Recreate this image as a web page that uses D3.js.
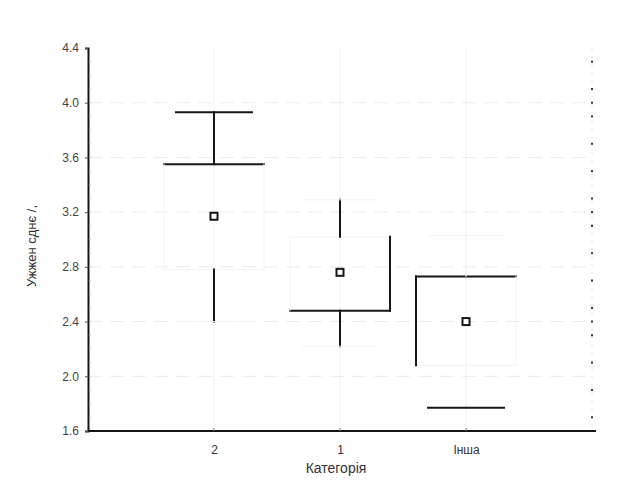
<!DOCTYPE html>
<html>
<head>
<meta charset="utf-8">
<script src="https://cdn.jsdelivr.net/npm/d3@7"></script>
<style>
  body { margin: 0; background: #fff; }
  text { font-family: "Liberation Sans", Arial, sans-serif; }
</style>
</head>
<body>
<svg id="chart" width="630" height="489"></svg>
<script>
var categories = ["2", "1", "Інша"];
var means     = [3.17, 2.76, 2.40];
var boxLow    = [2.78, 2.48, 2.08];
var boxHigh   = [3.55, 3.02, 2.73];
var whiskLow  = [2.40, 2.22, 1.77];
var whiskHigh = [3.93, 3.29, 3.03];
var yTicks = [1.6, 2.0, 2.4, 2.8, 3.2, 3.6, 4.0, 4.4];

// which parts are printed dark in the source (the rest is almost white)
var dark = [
    {capHi: true,  whiskHi: true,  top: true,  right: false, bottom: false, left: false, whiskLo: true,  capLo: false},
    {capHi: false, whiskHi: true,  top: false, right: true,  bottom: true,  left: false, whiskLo: true,  capLo: false},
    {capHi: false, whiskHi: false, top: true,  right: false, bottom: false, left: true,  whiskLo: false, capLo: true}
];

var svg = d3.select("#chart");
var pLeft = 88, pRight = 592, pTop = 48, pBottom = 431;

var x = d3.scalePoint().domain(categories).range([pLeft, pRight]).padding(1);
var y = d3.scaleLinear().domain([1.6, 4.4]).range([pBottom, pTop]);

var faint = "#f3f3f3", ink = "#161616";

// grid
svg.append("g").selectAll("line")
    .data(yTicks.slice(1, -1))
    .enter().append("line")
    .attr("x1", pLeft).attr("x2", pRight)
    .attr("y1", d => y(d)).attr("y2", d => y(d))
    .attr("stroke", "#ebebeb").attr("stroke-dasharray", "14,8");
svg.append("g").selectAll("line")
    .data(categories)
    .enter().append("line")
    .attr("x1", d => x(d)).attr("x2", d => x(d))
    .attr("y1", pTop).attr("y2", pBottom)
    .attr("stroke", "#f2f2f2");

// right frame, dotted
svg.append("line")
    .attr("x1", pRight).attr("x2", pRight).attr("y1", pTop).attr("y2", pBottom)
    .attr("stroke", "#e0e0e0").attr("stroke-dasharray", "2,6");
svg.append("g").selectAll("rect")
    .data(d3.range(1.7, 4.4, 0.2).concat([2.4, 3.2, 4.0]))
    .enter().append("rect")
    .attr("x", pRight - 1).attr("y", d => y(d) - 1)
    .attr("width", 2).attr("height", 2).attr("fill", "#333");

// boxes
var boxHalf = 50, capHalf = 38;
var g = svg.append("g");
categories.forEach(function(c, i) {
    var cx = x(c), f = dark[i];
    var seg = function(x1, y1, x2, y2, on) {
        g.append("line")
            .attr("x1", x1).attr("y1", y1).attr("x2", x2).attr("y2", y2)
            .attr("stroke", on ? ink : faint)
            .attr("stroke-width", on ? 2 : 1)
            .attr("stroke-linecap", "square");
    };
    var bl = cx - boxHalf, br = cx + boxHalf;
    var yt = y(boxHigh[i]), yb = y(boxLow[i]);
    seg(bl, yt, br, yt, f.top);
    seg(br, yt, br, yb, f.right);
    seg(bl, yb, br, yb, f.bottom);
    seg(bl, yt, bl, yb, f.left);
    seg(cx, y(whiskHigh[i]), cx, yt, f.whiskHi);
    seg(cx, yb, cx, y(whiskLow[i]), f.whiskLo);
    seg(cx - capHalf, y(whiskHigh[i]), cx + capHalf, y(whiskHigh[i]), f.capHi);
    seg(cx - capHalf, y(whiskLow[i]), cx + capHalf, y(whiskLow[i]), f.capLo);
    g.append("rect")
        .attr("x", cx - 3.5).attr("y", y(means[i]) - 3.5)
        .attr("width", 7).attr("height", 7)
        .attr("fill", "#fff").attr("stroke", ink).attr("stroke-width", 2);
});

// y axis
var yAxis = svg.append("g").attr("transform", "translate(" + pLeft + ",0)")
    .call(d3.axisLeft(y).tickValues(yTicks).tickSize(3).tickFormat(d3.format(".1f")));
yAxis.select(".domain").attr("stroke", ink).attr("stroke-width", 2);
yAxis.selectAll(".tick line").attr("stroke", "#555");
yAxis.selectAll("text").attr("font-size", 12).attr("fill", "#444").attr("x", -9);
svg.append("g").selectAll("line")
    .data(d3.range(1.7, 4.4, 0.1))
    .enter().append("line")
    .attr("x1", pLeft + 1).attr("x2", pLeft + 3)
    .attr("y1", d => y(d)).attr("y2", d => y(d))
    .attr("stroke", "#bbb");

// x axis
var xAxis = svg.append("g").attr("transform", "translate(0," + pBottom + ")")
    .call(d3.axisBottom(x).tickSize(0).tickPadding(14));
xAxis.select(".domain").attr("d", "M" + pLeft + ",0H" + (pRight + 4))
    .attr("stroke", ink).attr("stroke-width", 2);
xAxis.selectAll("text").attr("font-size", 12).attr("fill", "#333");
svg.append("g").selectAll("line")
    .data(categories)
    .enter().append("line")
    .attr("x1", d => x(d)).attr("x2", d => x(d))
    .attr("y1", pBottom - 3).attr("y2", pBottom)
    .attr("stroke", "#888");

// titles
svg.append("text")
    .attr("x", (pLeft + pRight) / 2 - 4).attr("y", 473)
    .attr("text-anchor", "middle").attr("font-size", 14).attr("fill", "#333")
    .text("Категорія");
svg.append("text")
    .attr("transform", "translate(36," + 246 + ") rotate(-90)")
    .attr("text-anchor", "middle").attr("font-size", 13).attr("fill", "#333")
    .text("Ужжен сднє /,");
</script>
</body>
</html>
